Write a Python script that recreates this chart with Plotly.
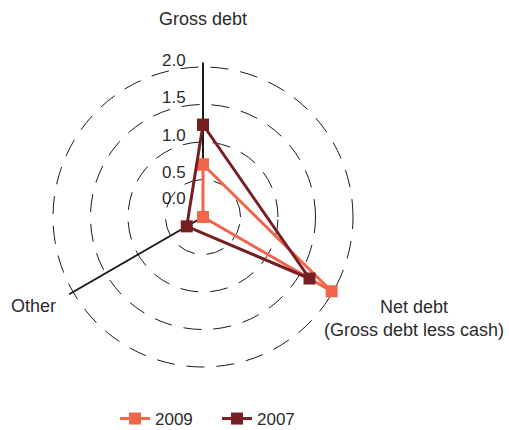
import plotly.graph_objects as go

# Debt ratio categories and values per year
categories = ["Gross debt", "Net debt (Gross debt less cash)", "Other"]
values_2009 = [0.70, 1.98, 0.0]
values_2007 = [1.23, 1.64, 0.25]
radial_ticks = [0.0, 0.5, 1.0, 1.5, 2.0]

color_2009 = "#F1664A"
color_2007 = "#761E22"
text_color = "#2b2b2b"
font_family = "Liberation Sans, Arial, sans-serif"
W, H = 509, 430

# Radial range is padded a little past 2.0 so the outer dashed ring is drawn
r_top = 2.0
r_max = 2.06
cx, cy, r2_px = 203, 217, 150          # centre and pixel radius of the 2.0 ring
r_px = r2_px * r_max / r_top


def closed(seq):
    return list(seq) + [seq[0]]


fig = go.Figure()
for name, vals, col in [("2009", values_2009, color_2009), ("2007", values_2007, color_2007)]:
    fig.add_trace(go.Scatterpolar(
        r=closed(vals),
        theta=closed(categories),
        name=name,
        mode="lines+markers",
        line=dict(color=col, width=3),
        marker=dict(symbol="square", size=12, color=col),
    ))

fig.update_layout(
    width=W,
    height=H,
    margin=dict(l=0, r=0, t=0, b=0, autoexpand=False),
    paper_bgcolor="white",
    plot_bgcolor="white",
    font=dict(family=font_family, size=17, color=text_color),
    polar=dict(
        domain=dict(x=[(cx - r_px) / W, (cx + r_px) / W],
                    y=[1 - (cy + r_px) / H, 1 - (cy - r_px) / H]),
        bgcolor="white",
        radialaxis=dict(
            range=[0, r_max],
            tickvals=radial_ticks,
            angle=90,
            showticklabels=False,
            showline=False,
            ticks="",
            showgrid=True,
            gridcolor="#1a1a1a",
            gridwidth=1.2,
            griddash="18px,12px",
        ),
        angularaxis=dict(
            direction="clockwise",
            rotation=90,
            showline=False,
            showgrid=True,
            gridcolor="#1a1a1a",
            gridwidth=1.5,
            ticks="",
            showticklabels=False,
        ),
    ),
    legend=dict(
        orientation="h",
        x=115 / W,
        xanchor="left",
        y=1 - 419 / H,
        yanchor="middle",
        entrywidth=57,
        entrywidthmode="pixels",
        font=dict(size=17, color=text_color),
    ),
    showlegend=True,
)

# Radial scale labels, set just left of the vertical spoke above each ring
for v in radial_ticks:
    lift = 19 if v == 0 else 7
    fig.add_annotation(text=f"{v:.1f}", x=188 / W, y=1 - (cy - v / r_top * r2_px - lift) / H,
                       xref="paper", yref="paper", showarrow=False, xanchor="right",
                       yanchor="middle", font=dict(size=17, color=text_color))

# Category labels around the chart
label_font = dict(size=18, color=text_color)
fig.add_annotation(text="Gross debt", x=203 / W, y=1 - 19 / H, xref="paper", yref="paper",
                   showarrow=False, xanchor="center", yanchor="middle", font=label_font)
fig.add_annotation(text="Other", x=33 / W, y=1 - 306 / H, xref="paper", yref="paper",
                   showarrow=False, xanchor="center", yanchor="middle", font=label_font)
fig.add_annotation(text="Net debt<br>(Gross debt less cash)", x=414 / W, y=1 - 318 / H,
                   xref="paper", yref="paper", showarrow=False, xanchor="center", yanchor="middle",
                   align="center", font=label_font)

fig.write_html("out.html")
